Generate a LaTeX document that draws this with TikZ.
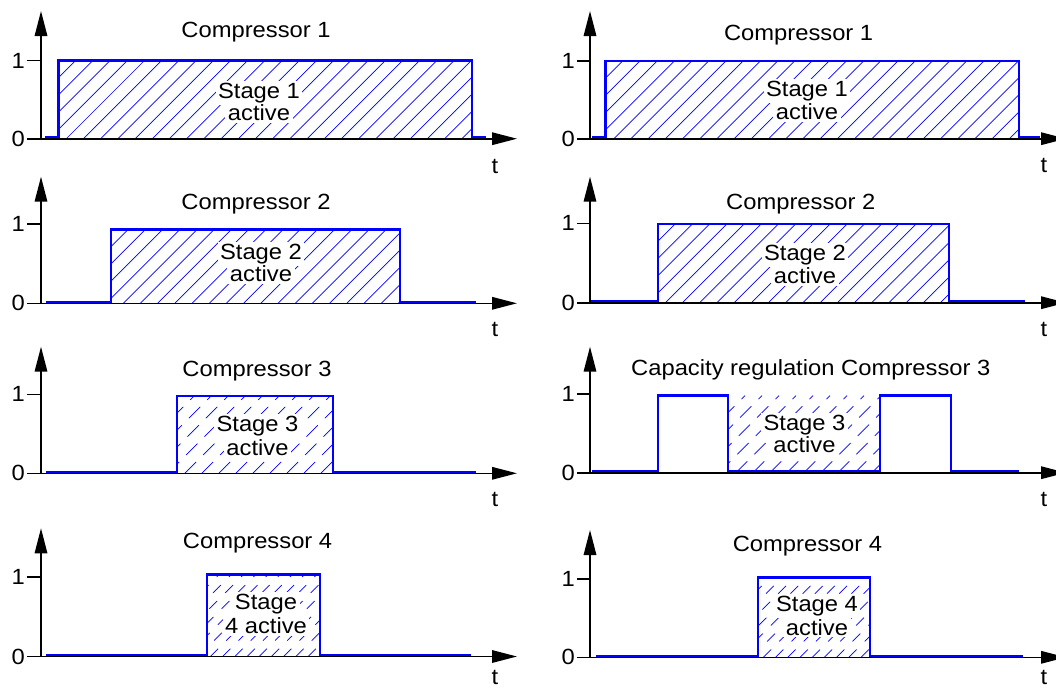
\documentclass[tikz,border=0pt]{standalone}
\usepackage{fontspec}
\setmainfont{Liberation Sans}[FakeStretch=1.08]
\usetikzlibrary{arrows.meta}

\tikzset{
  axisline/.style={line width=1.6pt, -{Triangle[length=25pt,width=12.5pt]}},
  tickline/.style={line width=1.6pt},
  signal/.style={draw=blue, line width=2.6pt, line join=miter},
  hatchsolid/.style={blue, line width=0.7pt},
  hatchdash/.style={blue, line width=0.7pt, dash pattern=on 16pt off 10pt},
  hatchshort/.style={blue, line width=0.7pt, dash pattern=on 11pt off 11.5pt},
  lbl/.style={font=\fontsize{22}{24}\selectfont, inner sep=0pt, anchor=base},
  stagelbl/.style={lbl, fill=white, inner xsep=2.5pt, inner ysep=2pt},
}

% diagonal hatching inside a box: left, top, right, bottom, spacing, line style
\newcommand\hatchfill[6]{%
  \begin{scope}
    \clip (#1,#2) rectangle (#3,#4);
    \pgfmathsetmacro\hh{#4-#2}
    \foreach \i in {0,...,70}{%
      \pgfmathsetmacro\xa{#1-\hh+\i*#5}
      \draw[#6] (\xa,#4) -- ++(\hh,-\hh);
    }
  \end{scope}}

% axes with ticks: name, y-axis x, level 0, level 1, axis top, axis start, arrow tip
\newcommand\drawaxes[7]{%
  \coordinate (#1-o) at (#2,#3);
  \coordinate (#1-top) at (#2,#5);
  \coordinate (#1-start) at (#6,#3);
  \coordinate (#1-end) at (#7,#3);
  \coordinate (#1-one) at (#2,#4);
  \coordinate (#1-tick) at (#6,#4);
  \draw[axisline] (#1-start) -- (#1-end);
  \draw[axisline] (#1-o) -- (#1-top);
  \draw[tickline] (#1-tick) -- (#1-one);
  \node[lbl, anchor=east] (#1-zero) at ([xshift=-2pt]#1-start) {0};
  \node[lbl, anchor=east] (#1-unit) at ([xshift=-2pt]#1-tick) {1};
}

\begin{document}
\begin{tikzpicture}[x=1pt, y=-1pt]
\useasboundingbox (0,0) rectangle (1056,688);

% ---------- left column ----------
% Compressor 1
\hatchfill{58.5}{60.5}{472}{138.7}{17.2}{hatchsolid}
\draw[signal] (45,137.5) -- (58.5,137.5) -- (58.5,60.5) -- (472,60.5) -- (472,137.5) -- (486,137.5);
\drawaxes{L1}{41}{138.7}{60.5}{11}{27}{517}
\node[lbl] (L1title) at (256,37.3) {Compressor 1};
\node[stagelbl] (L1s) at (259,98.7) {Stage 1};
\node[stagelbl] (L1a) at (259,120.7) {active};
\node[lbl] (L1t) at (495,173.3) {t};

% Compressor 2
\hatchfill{111}{229.5}{400}{303.3}{17.2}{hatchsolid}
\draw[signal] (46,302.1) -- (111,302.1) -- (111,229.5) -- (400,229.5) -- (400,302.1) -- (476,302.1);
\drawaxes{L2}{41}{303.3}{224}{176.7}{27}{517}
\node[lbl] (L2title) at (256,209.3) {Compressor 2};
\node[stagelbl] (L2s) at (261,259.3) {Stage 2};
\node[stagelbl] (L2a) at (261,281.7) {active};
\node[lbl] (L2t) at (495,336.7) {t};

% Compressor 3
\hatchfill{177}{396}{333}{473.3}{17}{hatchdash}
\draw[signal] (46,472.1) -- (177,472.1) -- (177,396) -- (333,396) -- (333,472.1) -- (476,472.1);
\drawaxes{L3}{41}{473.3}{394.3}{346.7}{27}{517}
\node[lbl] (L3title) at (257,376) {Compressor 3};
\node[stagelbl] (L3s) at (257.5,431.7) {Stage 3};
\node[stagelbl] (L3a) at (257.5,455) {active};
\node[lbl] (L3t) at (495,506.7) {t};

% Compressor 4
\hatchfill{207}{574.5}{320}{656.5}{12.2}{hatchshort}
\draw[signal] (46,655.3) -- (207,655.3) -- (207,574.5) -- (320,574.5) -- (320,655.3) -- (471,655.3);
\drawaxes{L4}{41}{656.5}{576.7}{528.3}{27}{517}
\node[lbl] (L4title) at (257.6,548.3) {Compressor 4};
\node[stagelbl] (L4s) at (266,609.3) {Stage};
\node[stagelbl] (L4a) at (266,633.3) {4 active};
\node[lbl] (L4t) at (495,684.5) {t};

% ---------- right column ----------
% Compressor 1
\hatchfill{605.5}{61}{1019}{138.7}{17.2}{hatchsolid}
\draw[signal] (592,137.5) -- (605.5,137.5) -- (605.5,61) -- (1019,61) -- (1019,137.5) -- (1040,137.5);
\drawaxes{R1}{590}{138.7}{61}{11}{577}{1066}
\node[lbl] (R1title) at (798.6,40.7) {Compressor 1};
\node[stagelbl] (R1s) at (807,96.7) {Stage 1};
\node[stagelbl] (R1a) at (807,119.3) {active};
\node[lbl] (R1t) at (1044,172.7) {t};

% Compressor 2
\hatchfill{658}{224}{949}{302.7}{17.2}{hatchsolid}
\draw[signal] (591,301.5) -- (658,301.5) -- (658,224) -- (949,224) -- (949,301.5) -- (1025,301.5);
\drawaxes{R2}{590}{302.7}{223.3}{176.7}{577}{1066}
\node[lbl] (R2title) at (800.8,209.3) {Compressor 2};
\node[stagelbl] (R2s) at (805,260) {Stage 2};
\node[stagelbl] (R2a) at (805,283.3) {active};
\node[lbl] (R2t) at (1044,336.7) {t};

% Capacity regulation, compressor 3
\hatchfill{728}{395.7}{880}{472.7}{17}{hatchdash}
\draw[signal] (592,471.5) -- (658,471.5) -- (658,395.7) -- (728,395.7) -- (728,471.5)
  -- (880,471.5) -- (880,395.7) -- (951,395.7) -- (951,471.5) -- (1019,471.5);
\drawaxes{R3}{590}{472.7}{394}{346.7}{577}{1066}
\node[lbl] (R3title) at (810.8,375) {Capacity regulation Compressor 3};
\node[stagelbl] (R3s) at (804.5,430) {Stage 3};
\node[stagelbl] (R3a) at (804.5,452.7) {active};
\node[lbl] (R3t) at (1044,506.7) {t};

% Compressor 4
\hatchfill{758}{577.3}{870}{657.3}{12.2}{hatchshort}
\draw[signal] (596,656.1) -- (758,656.1) -- (758,577.3) -- (870,577.3) -- (870,656.1) -- (1023,656.1);
\drawaxes{R4}{590}{657.3}{579}{530}{577}{1066}
\node[lbl] (R4title) at (807.4,551.7) {Compressor 4};
\node[stagelbl] (R4s) at (817,611.7) {Stage 4};
\node[stagelbl] (R4a) at (817,635) {active};
\node[lbl] (R4t) at (1044,684.5) {t};
\end{tikzpicture}
\end{document}
